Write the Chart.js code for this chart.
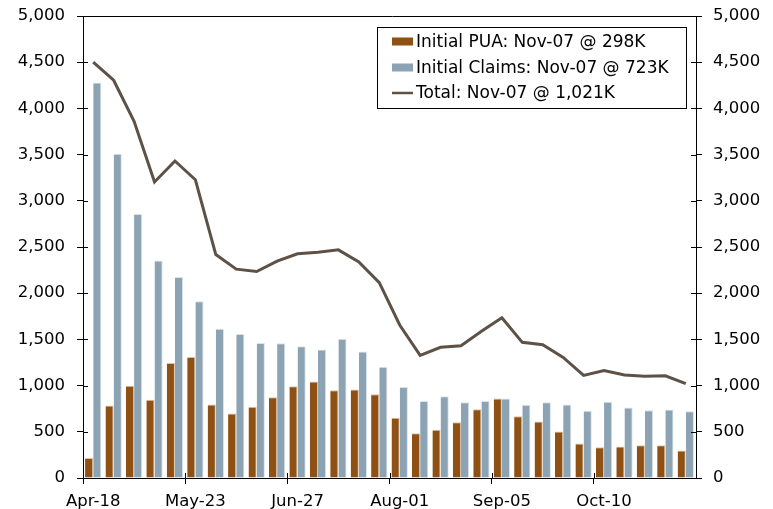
<!DOCTYPE html>
<html>
<head>
<meta charset="utf-8">
<script src="https://cdn.jsdelivr.net/npm/chart.js@4.4.1/dist/chart.umd.min.js"></script>
<style>
  html, body { margin: 0; padding: 0; background: #ffffff; }
  #wrap { width: 773px; height: 509px; }
</style>
</head>
<body>
<div id="wrap"><canvas id="c" width="773" height="509"></canvas></div>
<script>
const weeks = ['Apr-18','Apr-25','May-02','May-09','May-16','May-23','May-30','Jun-06','Jun-13','Jun-20',
  'Jun-27','Jul-04','Jul-11','Jul-18','Jul-25','Aug-01','Aug-08','Aug-15','Aug-22','Aug-29',
  'Sep-05','Sep-12','Sep-19','Sep-26','Oct-03','Oct-10','Oct-17','Oct-24','Oct-31','Nov-07'];
const initialPUA = [217,785,998,846,1244,1309,796,698,770,875,994,1045,951,958,907,651,485,521,604,745,861,669,611,503,373,333,340,355,355,298];
const initialClaims = [4280,3510,2856,2353,2176,1913,1616,1558,1461,1457,1425,1392,1508,1370,1204,984,832,886,821,832,861,792,821,796,727,824,763,734,742,723];
const totalClaims = [4500,4305,3860,3203,3431,3228,2418,2260,2234,2347,2426,2444,2469,2339,2115,1656,1327,1414,1431,1587,1735,1468,1442,1305,1110,1164,1114,1100,1106,1021];
const legendLabels = ['Initial PUA: Nov-07 @ 298K', 'Initial Claims: Nov-07 @ 723K', 'Total: Nov-07 @ 1,021K'];
const yMin = 0, yMax = 5000, yStep = 500;
const labelEvery = 5;

const colPUA = '#8e5013';
const colClaims = '#8ca3b3';
const colTotal = '#5e5246';
const tickFont = { family: 'DejaVu Sans', size: 16.5 };

const innerTicks = {
  id: 'innerTicks',
  afterDraw(chart) {
    const ctx = chart.ctx, a = chart.chartArea;
    const y = chart.scales.y, x = chart.scales.x;
    ctx.save();
    ctx.strokeStyle = '#000';
    ctx.lineWidth = 1;
    ctx.beginPath();
    ctx.moveTo(a.left, Math.round(a.top) + 0.5);
    ctx.lineTo(a.right + 6, Math.round(a.top) + 0.5);
    y.ticks.forEach(t => {
      const py = Math.round(y.getPixelForValue(t.value)) + 0.5;
      ctx.moveTo(a.left, py); ctx.lineTo(a.left + 5, py);
      ctx.moveTo(a.right, py); ctx.lineTo(a.right - 5, py);
    });
    const half = (x.getPixelForValue(1) - x.getPixelForValue(0)) / 2;
    for (let i = 0; i <= weeks.length; i += labelEvery) {
      const px = Math.round(x.getPixelForValue(i) - half) + 0.5;
      ctx.moveTo(px, a.bottom); ctx.lineTo(px, a.bottom - 5);
    }
    ctx.stroke();
    ctx.restore();
  }
};

const boxLegend = {
  id: 'boxLegend',
  afterDraw(chart) {
    const ctx = chart.ctx;
    const bx = 377, by = 27, bw = 309, bh = 81;
    ctx.save();
    ctx.fillStyle = '#ffffff';
    ctx.fillRect(bx, by, bw, bh);
    ctx.strokeStyle = '#000';
    ctx.lineWidth = 1;
    ctx.strokeRect(bx + 0.5, by + 0.5, bw, bh);
    const rows = [41.5, 67.5, 93];
    ctx.font = '17px "DejaVu Sans"';
    ctx.textBaseline = 'middle';
    chart.data.datasets.forEach((ds, i) => {
      const ry = rows[i];
      if (ds.type === 'line') {
        ctx.strokeStyle = ds.borderColor;
        ctx.lineWidth = 2.5;
        ctx.beginPath();
        ctx.moveTo(392, ry); ctx.lineTo(413, ry);
        ctx.stroke();
      } else {
        ctx.fillStyle = ds.backgroundColor;
        ctx.fillRect(392, ry - 4, 21, 8);
      }
      ctx.fillStyle = '#000';
      ctx.fillText(legendLabels[i], 416, ry + 1);
    });
    ctx.restore();
  }
};

new Chart(document.getElementById('c'), {
  data: {
    labels: weeks,
    datasets: [
      { type: 'bar', label: legendLabels[0], data: initialPUA, backgroundColor: colPUA,
        borderColor: '#d8c2ad', borderWidth: { top: 1, left: 0, right: 1, bottom: 0 }, borderSkipped: 'bottom',
        order: 1, categoryPercentage: 0.8, barPercentage: 1.0, yAxisID: 'y' },
      { type: 'bar', label: legendLabels[1], data: initialClaims, backgroundColor: colClaims,
        borderColor: '#dbe3e9', borderWidth: { top: 1, left: 0, right: 1, bottom: 0 }, borderSkipped: 'bottom',
        order: 1, categoryPercentage: 0.8, barPercentage: 1.0, yAxisID: 'y' },
      { type: 'line', label: legendLabels[2], data: totalClaims, borderColor: colTotal, backgroundColor: colTotal,
        borderWidth: 3, pointRadius: 0, tension: 0, order: 0, yAxisID: 'y' }
    ]
  },
  options: {
    responsive: false,
    animation: false,
    devicePixelRatio: 1,
    layout: { padding: { top: 16, left: 0, right: 0, bottom: 0 } },
    plugins: { legend: { display: false }, title: { display: false }, tooltip: { enabled: false } },
    scales: {
      x: {
        type: 'category',
        offset: true,
        grid: {
          offset: true, drawOnChartArea: false, tickLength: 6,
          color: c => (c.index % labelEvery === 0 ? '#000' : 'rgba(0,0,0,0)')
        },
        border: { display: true, color: '#000', width: 1 },
        ticks: {
          autoSkip: false, maxRotation: 0, minRotation: 0, padding: 8,
          color: '#000', font: tickFont,
          callback: (v, i) => (i % labelEvery === 0 ? weeks[i] : '')
        },
        afterFit: s => { s.height = 31; s.paddingLeft = 0; s.paddingRight = 0; }
      },
      y: {
        position: 'left', min: yMin, max: yMax,
        grid: { drawOnChartArea: false, tickLength: 6, color: '#000' },
        border: { display: true, color: '#000', width: 1 },
        ticks: { stepSize: yStep, padding: 12, color: '#000', font: tickFont,
          callback: v => Number(v).toLocaleString('en-US') },
        afterFit: s => { s.width = 83; s.paddingTop = 0; s.paddingBottom = 0; }
      },
      y1: {
        position: 'right', min: yMin, max: yMax,
        grid: { drawOnChartArea: false, tickLength: 6, color: '#000' },
        border: { display: true, color: '#000', width: 1 },
        ticks: { stepSize: yStep, padding: 11, color: '#000', font: tickFont,
          callback: v => Number(v).toLocaleString('en-US') },
        afterFit: s => { s.width = 77; s.paddingTop = 0; s.paddingBottom = 0; }
      }
    }
  },
  plugins: [innerTicks, boxLegend]
});
</script>
</body>
</html>
